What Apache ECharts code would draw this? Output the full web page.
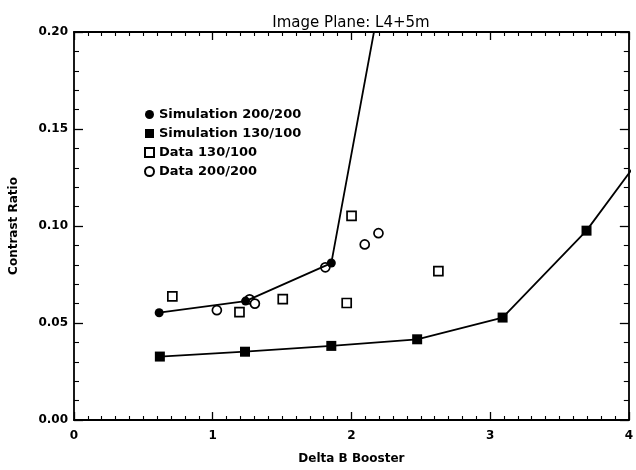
<!DOCTYPE html>
<html>
<head>
<meta charset="utf-8">
<script src="https://cdn.jsdelivr.net/npm/echarts@6/dist/echarts.min.js"></script>
<style>html,body{margin:0;padding:0;background:#fff}#c{width:636px;height:470px}</style>
</head>
<body>
<div id="c"></div>
<script>
var titleText = 'Image Plane: L4+5m';
var xName = 'Delta B Booster';
var yName = 'Contrast Ratio';
var seriesNames = ['Simulation 200/200', 'Simulation 130/100', 'Data 130/100', 'Data 200/200'];

var sim200X = [0.614, 1.237, 1.855, 2.475];
var sim200Y = [0.0553, 0.0613, 0.0809, 0.321];
var sim130X = [0.619, 1.233, 1.855, 2.474, 3.090, 3.695, 4.31];
var sim130Y = [0.0327, 0.0352, 0.0382, 0.0416, 0.0528, 0.0976, 0.157];
var data130X = [0.709, 1.193, 1.505, 1.966, 2.001, 2.627];
var data130Y = [0.0637, 0.0556, 0.0623, 0.0603, 0.1052, 0.0767];
var data200X = [1.030, 1.266, 1.304, 1.812, 2.096, 2.195];
var data200Y = [0.0566, 0.0622, 0.0600, 0.0787, 0.0905, 0.0963];

function pairs(xs, ys) { return xs.map(function (x, i) { return [x, ys[i]]; }); }

var FONT = 'DejaVu Sans';
var chart = echarts.init(document.getElementById('c'), null, {renderer: 'canvas'});

function xAxisDef(pos, show) {
  return {
    type: 'value', position: pos, min: 0, max: 4, interval: 1,
    name: show ? xName : '', nameLocation: 'middle', nameGap: 33,
    nameTextStyle: {color: '#000', fontFamily: FONT, fontSize: 12, fontWeight: 'bold'},
    axisLine: {show: true, onZero: false, lineStyle: {color: '#000', width: 1.8}},
    axisTick: {show: true, inside: true, length: 8, lineStyle: {color: '#000', width: 1.3}},
    minorTick: {show: true, splitNumber: 10, length: 4, lineStyle: {color: '#000', width: 1.1}},
    axisLabel: {show: show, margin: 10, color: '#000', fontFamily: FONT, fontSize: 12, fontWeight: 'bold'},
    splitLine: {show: false}
  };
}
function yAxisDef(pos, show) {
  return {
    type: 'value', position: pos, min: 0, max: 0.2, interval: 0.05,
    name: show ? yName : '', nameLocation: 'middle', nameGap: 54,
    nameTextStyle: {color: '#000', fontFamily: FONT, fontSize: 12, fontWeight: 'bold'},
    axisLine: {show: true, onZero: false, lineStyle: {color: '#000', width: 1.8}},
    axisTick: {show: true, inside: true, length: 9, lineStyle: {color: '#000', width: 1.3}},
    minorTick: {show: true, splitNumber: 5, length: 5, lineStyle: {color: '#000', width: 1.1}},
    axisLabel: {show: show, margin: 6, color: '#000', fontFamily: FONT, fontSize: 12, fontWeight: 'bold',
      formatter: function (v) { return v.toFixed(2); }},
    splitLine: {show: false}
  };
}

var option = {
  backgroundColor: '#fff',
  animation: false,
  title: {
    text: titleText, left: 346, top: 11, textAlign: 'center',
    textStyle: {color: '#000', fontFamily: FONT, fontSize: 15, fontWeight: 'normal'}
  },
  grid: {left: 69, right: 2, top: 32, bottom: 39},
  legend: {
    orient: 'vertical', left: 139, top: 102, itemWidth: 9, itemHeight: 9, itemGap: 4,
    textStyle: {color: '#000', fontFamily: FONT, fontSize: 13, fontWeight: 'bold', lineHeight: 15},
    data: [
      {name: seriesNames[0], icon: 'circle'},
      {name: seriesNames[1], icon: 'rect'},
      {name: seriesNames[2], icon: 'rect'},
      {name: seriesNames[3], icon: 'circle'}
    ]
  },
  xAxis: [xAxisDef('bottom', true), xAxisDef('top', false)],
  yAxis: [yAxisDef('left', true), yAxisDef('right', false)],
  series: [
    {
      name: seriesNames[0], type: 'line', data: pairs(sim200X, sim200Y), clip: true,
      symbol: 'circle', symbolSize: 9,
      lineStyle: {color: '#000', width: 1.8}, itemStyle: {color: '#000'}
    },
    {
      name: seriesNames[1], type: 'line', data: pairs(sim130X, sim130Y), clip: true,
      symbol: 'rect', symbolSize: 10,
      lineStyle: {color: '#000', width: 1.8}, itemStyle: {color: '#000'}
    },
    {
      name: seriesNames[2], type: 'scatter', data: pairs(data130X, data130Y),
      symbol: 'rect', symbolSize: 9,
      itemStyle: {color: '#fff', borderColor: '#000', borderWidth: 1.7, opacity: 1}
    },
    {
      name: seriesNames[3], type: 'scatter', data: pairs(data200X, data200Y),
      symbol: 'circle', symbolSize: 9,
      itemStyle: {color: '#fff', borderColor: '#000', borderWidth: 1.7, opacity: 1}
    }
  ]
};
chart.setOption(option);
</script>
</body>
</html>
